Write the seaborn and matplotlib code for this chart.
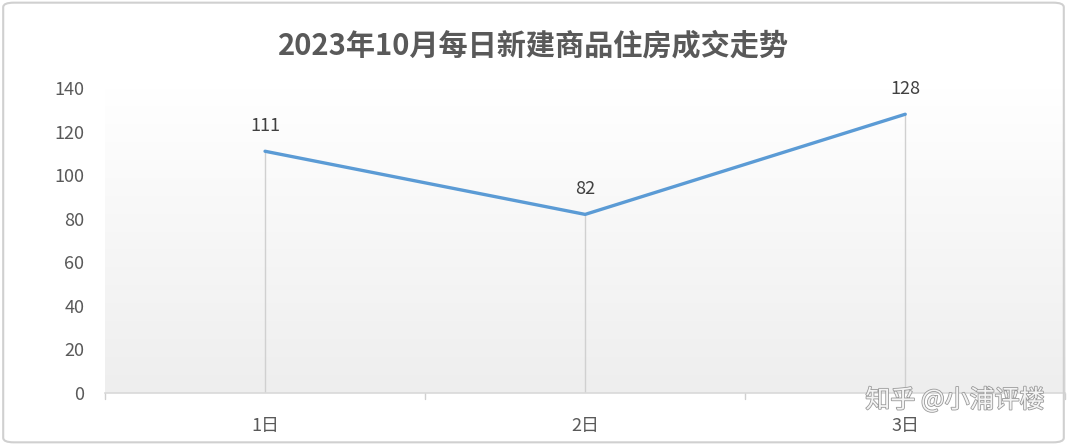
import numpy as np
import pandas as pd
import seaborn as sns
import matplotlib.pyplot as plt
import matplotlib.patheffects as pe
from matplotlib.colors import LinearSegmentedColormap
from matplotlib.patches import FancyBboxPatch

# data
days = ['1日', '2日', '3日']
deals = [111, 82, 128]
y_ticks = [0, 20, 40, 60, 80, 100, 120, 140]

df = pd.DataFrame({'day': days, 'deals': deals})

sns.set_theme(style='white')
plt.rcParams['font.family'] = ['Noto Sans CJK SC', 'DejaVu Sans']

fig = plt.figure(figsize=(10.67, 4.45), dpi=100)
ax = fig.add_axes([0.0984, 0.117, 0.90, 0.685])

# soft gradient background in plot area
grad = np.linspace(0, 1, 256).reshape(-1, 1)
ax.imshow(grad, extent=[0, 1, 0, 1], transform=ax.transAxes, aspect='auto',
          cmap=LinearSegmentedColormap.from_list('g', ['#eeeeee', '#ffffff']),
          origin='lower', zorder=0)

sns.lineplot(data=df, x='day', y='deals', ax=ax, color='#5b9bd5', linewidth=2.4,
             sort=False, zorder=3)

# drop lines and labels
for i, v in enumerate(deals):
    ax.plot([i, i], [0, v], color='#d0d0d0', linewidth=1, zorder=2)
    ax.annotate(str(v), (i, v), xytext=(0, 12), textcoords='offset points',
                ha='center', va='bottom', fontsize=13, color='#404040')

ax.set_xlim(-0.5, 2.5)
ax.set_ylim(0, 140)
ax.set_yticks(y_ticks)
ax.set_yticklabels([str(t) for t in y_ticks], fontsize=13, color='#595959')
ax.set_xticks(range(len(days)))
ax.set_xticklabels(days, fontsize=13, color='#595959')
ax.set_xlabel('')
ax.set_ylabel('')
ax.tick_params(axis='x', length=0, pad=17)
ax.tick_params(axis='y', length=0, pad=15)

# small ticks at category boundaries
for b in [-0.5, 0.5, 1.5, 2.5]:
    ax.plot([b, b], [0, -0.02], transform=ax.get_xaxis_transform(), color='#d0d0d0',
            linewidth=1, clip_on=False)

for s in ['top', 'right', 'left']:
    ax.spines[s].set_visible(False)
ax.spines['bottom'].set_color('#d9d9d9')
ax.spines['bottom'].set_linewidth(1.2)

fig.text(0.5, 0.897, '2023年10月每日新建商品住房成交走势', ha='center', va='center',
         fontsize=21, fontweight='bold', color='#595959')

# watermark
fig.text(0.895, 0.1, '知乎 @小浦评楼', ha='center', va='center', fontsize=18,
         color='#f4f4f4',
         path_effects=[pe.withStroke(linewidth=1.2, foreground='#9a9a9a')])

# figure border
fig.patches.append(FancyBboxPatch((0.003, 0.006), 0.994, 0.988,
                                  boxstyle='round,pad=0,rounding_size=0.01',
                                  transform=fig.transFigure, facecolor='none',
                                  edgecolor='#d0d0d0', linewidth=1.5))

fig.savefig('out.png', dpi=100)
